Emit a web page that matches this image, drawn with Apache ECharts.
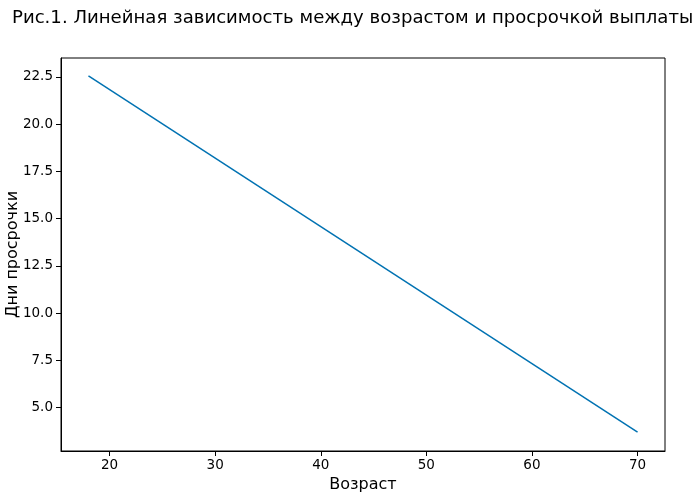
<!DOCTYPE html>
<html><head><meta charset="utf-8">
<script src="https://cdn.jsdelivr.net/npm/echarts@6/dist/echarts.min.js"></script>
<style>html,body{margin:0;padding:0;background:#fff}#c{width:700px;height:497px}</style>
</head><body><div id="c"></div>
<script>
const ages = [18, 70];
const overdueDays = [22.55, 3.7];
const xTicks = [20, 30, 40, 50, 60, 70];
const yTicks = [5.0, 7.5, 10.0, 12.5, 15.0, 17.5, 20.0, 22.5];

const font = 'DejaVu Sans';
const chart = echarts.init(document.getElementById('c'), null, {renderer: 'canvas'});
chart.setOption({
  animation: false,
  title: {
    text: 'Рис.1. Линейная зависимость между возрастом и просрочкой выплаты',
    left: 7, top: 4,
    textStyle: {fontFamily: font, fontSize: 18.1, fontWeight: 'normal', color: '#000'}
  },
  grid: {left: 61, right: 35, top: 58, bottom: 46, containLabel: false, outerBoundsMode: 'none',
    show: true, borderColor: '#000', borderWidth: 1, backgroundColor: 'transparent'},
  xAxis: {
    type: 'value', min: 15.4, max: 72.6,
    name: 'Возраст', nameLocation: 'middle', nameGap: 26, nameMoveOverlap: false,
    nameTextStyle: {fontFamily: font, fontSize: 16, color: '#000'},
    axisLine: {show: true, onZero: false, lineStyle: {color: '#000', width: 1}},
    axisTick: {show: true, length: 5, inside: false, customValues: xTicks, lineStyle: {color: '#000'}},
    axisLabel: {customValues: xTicks, fontFamily: font, fontSize: 13.5, color: '#000', margin: 7},
    splitLine: {show: false}
  },
  yAxis: {
    type: 'value', min: 2.7, max: 23.5,
    name: 'Дни просрочки', nameLocation: 'middle', nameGap: 40, nameRotate: 90, nameMoveOverlap: false,
    nameTextStyle: {fontFamily: font, fontSize: 16, color: '#000'},
    axisLine: {show: true, onZero: false, lineStyle: {color: '#000', width: 1}},
    axisTick: {show: true, length: 5, inside: false, customValues: yTicks, lineStyle: {color: '#000'}},
    axisLabel: {customValues: yTicks, fontFamily: font, fontSize: 13.5, color: '#000', margin: 8,
      formatter: v => v.toFixed(1)},
    splitLine: {show: false}
  },
  series: [{
    type: 'line',
    data: ages.map((a, i) => [a, overdueDays[i]]),
    showSymbol: false,
    lineStyle: {color: '#0072B2', width: 1.5},
    itemStyle: {color: '#0072B2'}
  }]
});
</script></body></html>
